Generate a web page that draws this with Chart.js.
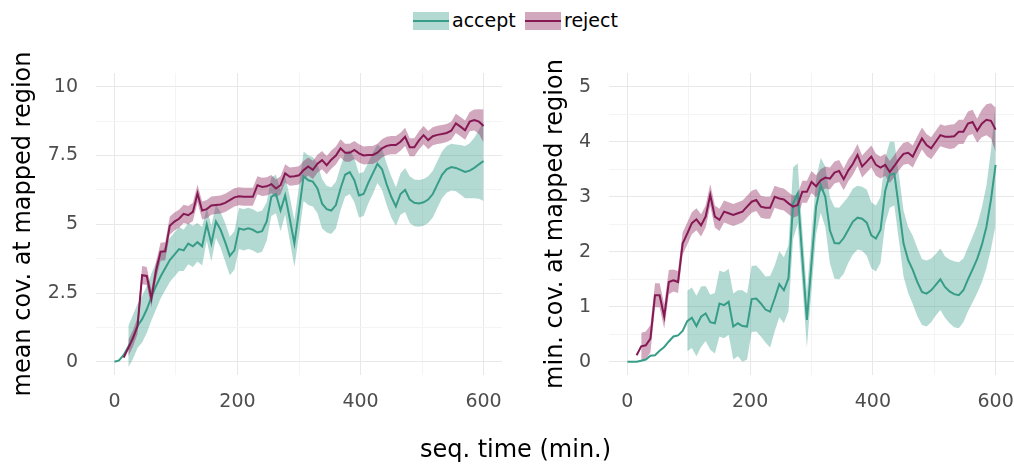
<!DOCTYPE html>
<html>
<head>
<meta charset="utf-8">
<script src="https://cdn.jsdelivr.net/npm/chart.js@4.4.1/dist/chart.umd.min.js"></script>
<style>
  body { margin: 0; width: 1014px; height: 466px; background: #fff; position: relative; overflow: hidden;
         font-family: "DejaVu Sans", sans-serif; }
  canvas { position: absolute; top: 0; }
  #leftChart { left: 0; }
  #rightChart { left: 520px; }
  .sw { position: absolute; top: 12px; width: 36px; height: 18px; }
  .sw i { position: absolute; left: 0; right: 0; top: 8px; height: 2px; }
  .lbl { position: absolute; top: 11px; font-size: 19px; line-height: 19px; color: #000; }
  #xtitle { position: absolute; left: 515.5px; top: 437px; transform: translateX(-50%);
            font-size: 24px; line-height: 24px; color: #000; white-space: nowrap; }
</style>
</head>
<body>
<div class="sw" style="left:413px;background:rgba(55,157,136,0.38)"><i style="background:#379d88"></i></div>
<div class="lbl" style="left:452px">accept</div>
<div class="sw" style="left:525px;background:rgba(134,25,84,0.38)"><i style="background:#861954"></i></div>
<div class="lbl" style="left:564px">reject</div>
<canvas id="leftChart" width="507" height="466"></canvas>
<canvas id="rightChart" width="494" height="466"></canvas>
<div id="xtitle">seq. time (min.)</div>
<script>
// sampling times (min.)
const minutes = [0, 7.5, 15, 22.5, 30, 37.5, 45, 52.5, 60, 67.5,
  75, 82.5, 90, 97.5, 105, 112.5, 120, 127.5, 135, 142.5,
  150, 157.5, 165, 172.5, 180, 187.5, 195, 202.5, 210, 217.5,
  225, 232.5, 240, 247.5, 255, 262.5, 270, 277.5, 285, 292.5,
  300, 307.5, 315, 322.5, 330, 337.5, 345, 352.5, 360, 367.5,
  375, 382.5, 390, 397.5, 405, 412.5, 420, 427.5, 435, 442.5,
  450, 457.5, 465, 472.5, 480, 487.5, 495, 502.5, 510, 517.5,
  525, 532.5, 540, 547.5, 555, 562.5, 570, 577.5, 585, 592.5,
  600];

// mean coverage at mapped region
const meanAccept = [0, 0.05, 0.25, 0.55, 0.9, 1.3, 1.55, 1.9, 2.35, 2.75,
  3.1, 3.4, 3.7, 3.9, 4.1, 4.05, 4.3, 4.2, 4.35, 4.2,
  5.0, 4.3, 5.1, 4.8, 4.35, 3.85, 4.05, 4.85, 4.8, 4.85,
  4.8, 4.7, 4.75, 5.1, 6.0, 6.1, 5.5, 6.05, 5.2, 4.3,
  5.5, 6.75, 6.6, 6.55, 6.3, 5.75, 5.55, 5.5, 5.7, 6.3,
  6.8, 6.9, 6.6, 6.05, 6.1, 6.5, 6.85, 7.2, 7.0, 6.45,
  6.0, 5.65, 6.1, 6.25, 5.9, 5.78, 5.76, 5.8, 5.9, 6.1,
  6.45, 6.8, 7.0, 7.08, 7.05, 6.98, 6.9, 6.95, 7.05, 7.18,
  7.3];
const meanAcceptCi = [null, null, null, 0.75, 0.8, 0.8, 0.85, 0.85, 0.85, 0.85,
  0.8, 0.8, 0.8, 0.8, 0.8, 0.75, 0.75, 0.75, 0.7, 0.7,
  0.6, 0.65, 0.6, 0.65, 0.7, 0.7, 0.7, 0.75, 0.75, 0.75,
  0.75, 0.75, 0.75, 0.7, 0.7, 0.7, 0.75, 0.7, 0.8, 0.85,
  0.9, 0.9, 0.9, 0.9, 0.9, 0.9, 0.85, 0.85, 0.85, 0.8,
  0.8, 0.8, 0.8, 0.8, 0.8, 0.75, 0.75, 0.7, 0.75, 0.75,
  0.75, 0.7, 0.75, 0.8, 0.85, 0.85, 0.85, 0.85, 0.85, 0.85,
  0.85, 0.85, 0.85, 0.85, 0.85, 0.9, 0.95, 1.0, 1.1, 1.25,
  1.45];
const meanReject = [null, null, 0.15, 0.5, 0.85, 1.3, 3.15, 3.12, 2.3, 3.3,
  4.0, 4.02, 4.95, 5.1, 5.2, 5.38, 5.33, 5.45, 6.12, 5.5,
  5.55, 5.68, 5.7, 5.72, 5.78, 5.88, 5.98, 6.02, 6.0, 6.0,
  6.0, 6.42, 6.36, 6.38, 6.46, 6.3, 6.42, 6.85, 6.73, 6.75,
  6.78, 6.97, 7.1, 6.98, 7.2, 7.33, 7.15, 7.35, 7.5, 7.76,
  7.6, 7.6, 7.7, 7.58, 7.5, 7.52, 7.52, 7.6, 7.76, 7.85,
  7.88, 7.88, 8.0, 8.18, 7.8, 7.8, 8.05, 8.24, 8.06, 8.2,
  8.25, 8.28, 8.32, 8.4, 8.67, 8.55, 8.42, 8.73, 8.79, 8.73,
  8.57];
const meanRejectCi = [null, null, null, 0.3, 0.3, 0.3, 0.33, 0.33, 0.33, 0.33,
  0.33, 0.33, 0.33, 0.33, 0.33, 0.33, 0.33, 0.33, 0.33, 0.33,
  0.33, 0.33, 0.33, 0.33, 0.33, 0.33, 0.33, 0.33, 0.33, 0.33,
  0.33, 0.33, 0.33, 0.33, 0.33, 0.33, 0.33, 0.33, 0.33, 0.33,
  0.33, 0.33, 0.33, 0.33, 0.33, 0.33, 0.33, 0.33, 0.33, 0.33,
  0.33, 0.33, 0.33, 0.33, 0.33, 0.33, 0.33, 0.33, 0.33, 0.33,
  0.33, 0.33, 0.33, 0.33, 0.33, 0.33, 0.33, 0.33, 0.33, 0.33,
  0.33, 0.33, 0.33, 0.33, 0.35, 0.35, 0.35, 0.35, 0.38, 0.45,
  0.6];

// min. coverage at mapped region
const minAccept = [0, 0, 0, 0.02, 0.04, 0.11, 0.12, 0.2, 0.27, 0.37,
  0.46, 0.48, 0.56, 0.74, 0.8, 0.65, 0.82, 0.88, 0.72, 0.7,
  1.06, 1.03, 1.09, 0.64, 0.7, 0.65, 0.64, 1.14, 1.15, 1.06,
  0.95, 0.91, 1.15, 1.41, 1.3, 1.52, 2.88, 3.06, 1.9, 0.76,
  1.8, 2.82, 3.21, 3.0, 2.39, 2.16, 2.15, 2.25, 2.4, 2.55,
  2.62, 2.6, 2.53, 2.3, 2.24, 2.4, 3.1, 3.4, 3.42, 2.8,
  2.15, 1.85, 1.67, 1.45, 1.27, 1.24, 1.3, 1.4, 1.5, 1.36,
  1.28, 1.23, 1.21, 1.3, 1.5, 1.68, 1.87, 2.12, 2.45, 2.95,
  3.58];
const minAcceptCi = [null, null, null, null, null, null, null, null, null, null,
  null, null, null, 0.55, 0.55, 0.55, 0.55, 0.5, 0.5, 0.55,
  0.6, 0.6, 0.6, 0.6, 0.6, 0.65, 0.6, 0.6, 0.6, 0.6,
  0.6, 0.65, 0.6, 0.6, 0.6, 0.6, 0.65, 0.55, 0.5, 0.5,
  0.5, 0.5, 0.5, 0.55, 0.6, 0.65, 0.65, 0.65, 0.6, 0.6,
  0.58, 0.58, 0.6, 0.6, 0.6, 0.6, 0.6, 0.6, 0.58, 0.6,
  0.6, 0.6, 0.62, 0.62, 0.6, 0.6, 0.58, 0.56, 0.56, 0.56,
  0.58, 0.6, 0.6, 0.58, 0.58, 0.6, 0.62, 0.68, 0.75, 0.9,
  1.1];
const minReject = [null, null, 0.12, 0.28, 0.3, 0.42, 1.21, 1.21, 0.82, 1.45,
  1.48, 1.45, 2.15, 2.33, 2.52, 2.59, 2.48, 2.64, 3.03, 2.64,
  2.58, 2.73, 2.7, 2.67, 2.7, 2.73, 2.82, 2.91, 2.94, 2.82,
  2.8, 2.8, 3.0, 2.97, 2.95, 2.88, 2.82, 2.85, 3.09, 3.09,
  3.27, 3.19, 3.3, 3.35, 3.33, 3.44, 3.47, 3.32, 3.48, 3.6,
  3.76, 3.55, 3.64, 3.73, 3.58, 3.53, 3.58, 3.45, 3.56, 3.68,
  3.78, 3.8, 3.73, 3.9, 4.06, 3.94, 3.88, 4.0, 4.12, 4.09,
  4.09, 4.1, 4.18, 4.18, 4.33, 4.36, 4.2, 4.33, 4.4, 4.38,
  4.22];
const minRejectCi = [null, null, null, 0.25, 0.25, 0.25, 0.22, 0.22, 0.22, 0.22,
  0.2, 0.2, 0.2, 0.2, 0.2, 0.2, 0.2, 0.2, 0.2, 0.2,
  0.2, 0.2, 0.2, 0.2, 0.2, 0.2, 0.2, 0.2, 0.2, 0.2,
  0.2, 0.2, 0.2, 0.2, 0.2, 0.2, 0.2, 0.2, 0.2, 0.2,
  0.2, 0.2, 0.2, 0.2, 0.2, 0.2, 0.2, 0.2, 0.2, 0.2,
  0.2, 0.2, 0.2, 0.2, 0.2, 0.2, 0.2, 0.2, 0.2, 0.2,
  0.2, 0.2, 0.2, 0.2, 0.2, 0.2, 0.2, 0.2, 0.2, 0.2,
  0.22, 0.22, 0.22, 0.22, 0.22, 0.22, 0.22, 0.25, 0.28, 0.32,
  0.4];

const FONT = '"DejaVu Sans", sans-serif';
const ACCEPT = '#379d88', ACCEPT_FILL = 'rgba(55,157,136,0.38)';
const REJECT = '#861954', REJECT_FILL = 'rgba(134,25,84,0.38)';

function pts(vals) {
  return minutes.map((t, i) => ({x: t, y: vals[i]}));
}
function band(vals, ci, sign) {
  return minutes.map((t, i) => ({
    x: t,
    y: (vals[i] == null || ci[i] == null) ? null : vals[i] + sign * ci[i]
  }));
}

function gridOpts(isMajor) {
  return {
    drawTicks: false,
    color: ctx => isMajor(ctx.tick.value) ? '#e8e8e8' : '#f4f4f4',
    lineWidth: 1
  };
}

function makePanel(id, p) {
  const ctx = document.getElementById(id).getContext('2d');
  const bandDs = (vals, ci, sign, color, order, fill) => ({
    type: 'line', data: band(vals, ci, sign), borderWidth: 0, borderColor: 'transparent',
    backgroundColor: color, pointRadius: 0, fill: fill, order: order, spanGaps: false
  });
  const lineDs = (vals, color, order) => ({
    type: 'line', data: pts(vals), borderColor: color, borderWidth: 2,
    pointRadius: 0, fill: false, order: order, spanGaps: false
  });

  return new Chart(ctx, {
    type: 'line',
    data: {
      datasets: [
        bandDs(p.acc, p.accCi, -1, ACCEPT_FILL, 4, false),
        bandDs(p.acc, p.accCi, 1, ACCEPT_FILL, 4, '-1'),
        bandDs(p.rej, p.rejCi, -1, REJECT_FILL, 3, false),
        bandDs(p.rej, p.rejCi, 1, REJECT_FILL, 3, '-1'),
        lineDs(p.acc, ACCEPT, 2),
        lineDs(p.rej, REJECT, 1)
      ]
    },
    options: {
      responsive: false,
      animation: false,
      layout: {padding: {top: 73, right: p.padRight, bottom: 0, left: 0}},
      elements: {line: {tension: 0}},
      plugins: {legend: {display: false}, tooltip: {enabled: false}},
      scales: {
        x: {
          type: 'linear', min: -30, max: 630,
          border: {display: false},
          grid: gridOpts(v => v % 200 === 0),
          ticks: {
            stepSize: 100, includeBounds: false, autoSkip: false, maxRotation: 0,
            color: '#4d4d4d', font: {family: FONT, size: 19}, padding: 16,
            callback: v => v % 200 === 0 ? String(v) : ''
          },
          afterFit: s => { s.height = 91; s.paddingLeft = 0; s.paddingRight = 0; }
        },
        y: {
          type: 'linear', min: p.yMin, max: p.yMax,
          border: {display: false},
          grid: gridOpts(v => v % p.labelEvery === 0),
          ticks: {
            stepSize: p.yStep, includeBounds: false,
            color: '#4d4d4d', font: {family: FONT, size: 19}, padding: 18,
            callback: v => v % p.labelEvery === 0 ? String(v) : ''
          },
          title: {
            display: true, text: p.title, color: '#000',
            font: {family: FONT, size: 24}, padding: {top: p.titlePad, bottom: 0}
          },
          afterFit: s => { s.width = p.axisWidth; s.paddingTop = 0; s.paddingBottom = 0; }
        }
      }
    }
  });
}

makePanel('leftChart', {
  acc: meanAccept, accCi: meanAcceptCi, rej: meanReject, rejCi: meanRejectCi,
  yMin: -0.48, yMax: 10.5, yStep: 1.25, labelEvery: 2.5,
  title: 'mean cov. at mapped region', axisWidth: 96, titlePad: 9, padRight: 5
});
makePanel('rightChart', {
  acc: minAccept, accCi: minAcceptCi, rej: minReject, rejCi: minRejectCi,
  yMin: -0.24, yMax: 5.25, yStep: 0.5, labelEvery: 1,
  title: 'min. cov. at mapped region', axisWidth: 89, titlePad: 21, padRight: 0
});
</script>
</body>
</html>
